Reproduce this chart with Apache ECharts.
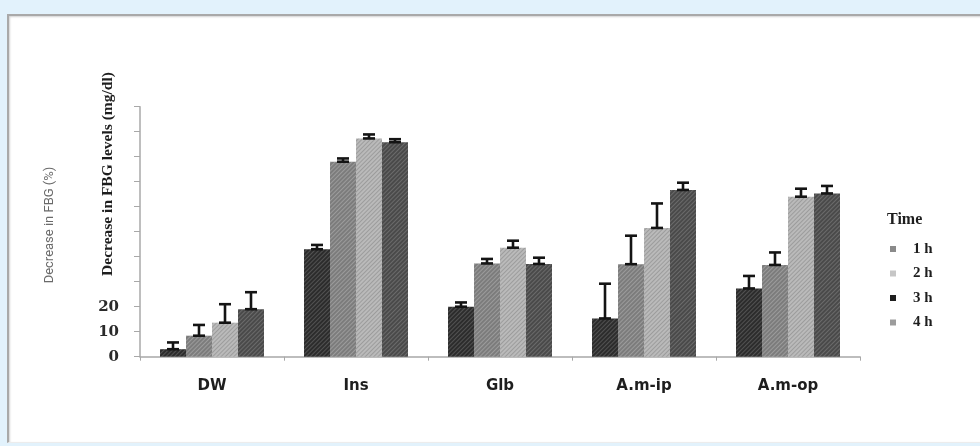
<!DOCTYPE html>
<html>
<head>
<meta charset="utf-8">
<script src="https://cdn.jsdelivr.net/npm/echarts@6/dist/echarts.min.js"></script>
<style>
  html, body { margin: 0; padding: 0; }
  body { width: 980px; height: 446px; background: #e2f2fc; position: relative; overflow: hidden; }
  #panel {
    position: absolute; left: 7px; top: 14px; width: 990px; height: 426px;
    background: #ffffff;
    border-top: 2px solid #a9a9a9; border-left: 2px solid #a9a9a9; border-bottom: 1px solid #ececec;
    box-shadow: inset 1px 1px 2px rgba(0,0,0,0.18);
  }
  #chart { position: absolute; left: 0; top: 0; width: 980px; height: 446px; }
</style>
</head>
<body>
<div id="panel"></div>
<div id="chart"></div>
<script>
// Treatment groups along the x axis
const categories = ['DW', 'Ins', 'Glb', 'A.m-ip', 'A.m-op'];
// Sampling times (one bar series each)
const seriesNames = ['1 h', '2 h', '3 h', '4 h'];
// Mean decrease in FBG per time point
const h1 = [3.0, 43.0, 20.0, 15.3, 27.3];
const h2 = [8.4, 78.0, 37.3, 37.0, 36.7];
const h3 = [13.6, 87.3, 43.6, 51.5, 64.0];
const h4 = [19.0, 85.8, 37.1, 66.7, 65.3];
// Standard errors (upper whiskers)
const se1 = [2.7, 1.7, 1.7, 13.9, 5.0];
const se2 = [4.3, 1.3, 1.8, 11.4, 5.0];
const se3 = [7.4, 1.6, 2.8, 9.8, 3.2];
const se4 = [6.8, 1.2, 2.5, 2.9, 3.0];
// Only these ticks carry a label on the value axis
const yTickLabels = [0, 10, 20];

const means = [h1, h2, h3, h4];
const errs = [se1, se2, se3, se4];

const BAR_W = 26;
const barColors = ['#2c2c2c', '#7c7c7c', '#bababa', '#4a4a4a'];
const hatchColors = ['rgba(255,255,255,0.18)', 'rgba(255,255,255,0.24)', 'rgba(0,0,0,0.16)', 'rgba(255,255,255,0.18)'];
const legendSwatch = ['#8a8a8a', '#c6c6c6', '#1e1e1e', '#9c9c9c'];

const serif = '"Liberation Serif", "Times New Roman", serif';

const barSeries = seriesNames.map((name, i) => ({
  name: name,
  type: 'bar',
  data: means[i],
  barWidth: BAR_W,
  barGap: '0%',
  itemStyle: {
    color: barColors[i],
    decal: {
      symbol: 'rect',
      symbolSize: 1,
      color: hatchColors[i],
      dashArrayX: [1, 0],
      dashArrayY: [1, 2],
      rotation: -Math.PI / 4
    }
  },
  emphasis: { disabled: true }
}));

// Error bar items: [category index, series index, mean, se]
const errData = [];
means.forEach((arr, s) => {
  arr.forEach((v, c) => errData.push([c, s, v, errs[s][c]]));
});

const errorSeries = {
  type: 'custom',
  name: 'err',
  z: 5,
  encode: { x: 0, y: 2 },
  data: errData,
  silent: true,
  renderItem: function (params, api) {
    const c = api.value(0), s = api.value(1), m = api.value(2), e = api.value(3);
    const base = api.coord([c, m]);
    const top = api.coord([c, m + e]);
    const x = base[0] + (s - 1.5) * BAR_W;
    const half = 6;
    const st = { stroke: '#141414', lineWidth: 2.6 };
    return {
      type: 'group',
      children: [
        { type: 'line', shape: { x1: x, y1: base[1], x2: x, y2: top[1] }, style: st },
        { type: 'line', shape: { x1: x - half, y1: top[1], x2: x + half, y2: top[1] }, style: st },
        { type: 'line', shape: { x1: x - half, y1: base[1], x2: x + half, y2: base[1] }, style: st }
      ]
    };
  }
};

const chart = echarts.init(document.getElementById('chart'), null, { renderer: 'canvas' });
chart.setOption({
  backgroundColor: 'transparent',
  animation: false,
  grid: { left: 140, right: 120, top: 106.7, bottom: 89.3, containLabel: false },
  xAxis: {
    type: 'category',
    data: categories,
    axisLine: { lineStyle: { color: '#a8a8a8', width: 1.5 } },
    axisTick: { show: true, length: 4, lineStyle: { color: '#a8a8a8' } },
    axisLabel: {
      margin: 22,
      color: '#1e1e1e',
      fontFamily: '"DejaVu Sans", sans-serif',
      fontWeight: 'bold',
      fontSize: 15
    }
  },
  yAxis: {
    type: 'value',
    min: 0,
    max: 100,
    interval: 10,
    splitLine: { show: false },
    axisLine: { show: true, lineStyle: { color: '#a8a8a8', width: 1.5 } },
    axisTick: { show: true, length: 6, lineStyle: { color: '#a8a8a8' } },
    axisLabel: {
      margin: 21,
      color: '#2a2a2a',
      fontFamily: '"DejaVu Serif", serif',
      fontWeight: 'bold',
      fontSize: 15,
      formatter: v => (yTickLabels.indexOf(v) >= 0 ? String(v) : '')
    }
  },
  legend: {
    orient: 'vertical',
    left: 885,
    top: 236,
    itemWidth: 6,
    itemHeight: 6,
    itemGap: 8.5,
    icon: 'rect',
    selectedMode: false,
    data: seriesNames.map((n, i) => ({ name: n, itemStyle: { color: legendSwatch[i], decal: 'none' } })),
    textStyle: {
      fontFamily: serif,
      fontWeight: 'bold',
      fontSize: 15,
      lineHeight: 16,
      color: '#1e1e1e',
      padding: [0, 0, 0, 12]
    }
  },
  graphic: [
    {
      type: 'text',
      x: 887, y: 220,
      style: { text: 'Time', font: 'bold 16px ' + serif, fill: '#1e1e1e', textAlign: 'left', textVerticalAlign: 'middle' }
    },
    {
      type: 'text',
      x: 108, y: 174,
      rotation: Math.PI / 2,
      style: { text: 'Decrease in FBG levels (mg/dl)', font: 'bold 15.5px ' + serif, fill: '#1e1e1e', textAlign: 'center', textVerticalAlign: 'middle' }
    },
    {
      type: 'text',
      x: 50, y: 225,
      rotation: Math.PI / 2,
      style: { text: 'Decrease in FBG (%)', font: '13px "Liberation Sans Narrow", "Roboto", sans-serif', fill: '#6a6a6a', textAlign: 'center', textVerticalAlign: 'middle' }
    }
  ],
  series: barSeries.concat([errorSeries])
});
</script>
</body>
</html>
